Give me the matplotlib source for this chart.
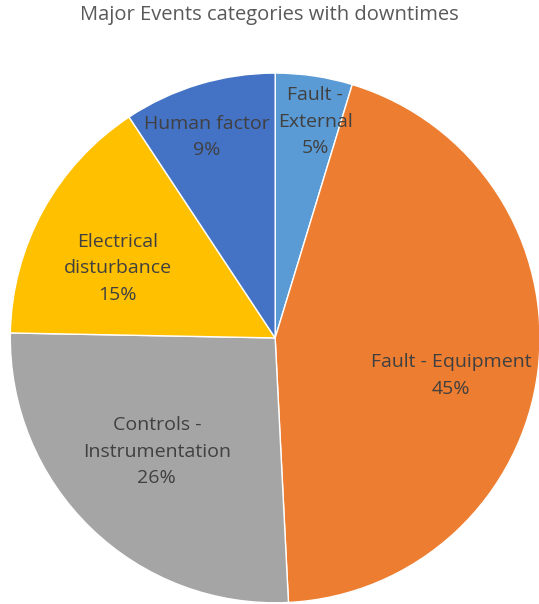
import numpy as np
import matplotlib

matplotlib.use("Agg")
import matplotlib.pyplot as plt

# slice data, clockwise from 12 o'clock
categories = ["Fault -\nExternal", "Fault - Equipment", "Controls -\nInstrumentation",
              "Electrical\ndisturbance", "Human factor"]
shares = [4.7, 44.5, 26.1, 15.4, 9.3]
shown_pct = ["5%", "45%", "26%", "15%", "9%"]
colors = ["#5B9BD5", "#ED7D31", "#A5A5A5", "#FFC000", "#4472C4"]

plt.rcParams["font.family"] = ["Open Sans", "DejaVu Sans"]

fig = plt.figure(figsize=(5.39, 6.04), dpi=100)
ax = fig.add_axes([0.019, 0.002, 0.983, 0.877])
wedges, _ = ax.pie(shares, colors=colors, startangle=90, counterclock=False,
                   wedgeprops=dict(edgecolor="white", linewidth=1.0))
ax.set_xlim(-1, 1)
ax.set_ylim(-1, 1)
ax.set_aspect("equal")
ax.axis("off")

# label placement: radius fraction and angle nudge (deg) per slice
label_r = [0.83, 0.68, 0.62, 0.65, 0.80]
label_da = [-2, -5, -2, 5, 2]
for w, name, pct, r, da in zip(wedges, categories, shown_pct, label_r, label_da):
    ang = np.deg2rad((w.theta1 + w.theta2) / 2 + da)
    ax.text(r * np.cos(ang), r * np.sin(ang), f"{name}\n{pct}", ha="center", va="center",
            fontsize=14, color="#404040", linespacing=1.6)

fig.text(0.5, 0.975, "Major Events categories with downtimes", ha="center", va="center",
         fontsize=14.5, color="#595959")

fig.savefig("out.png", dpi=100)
